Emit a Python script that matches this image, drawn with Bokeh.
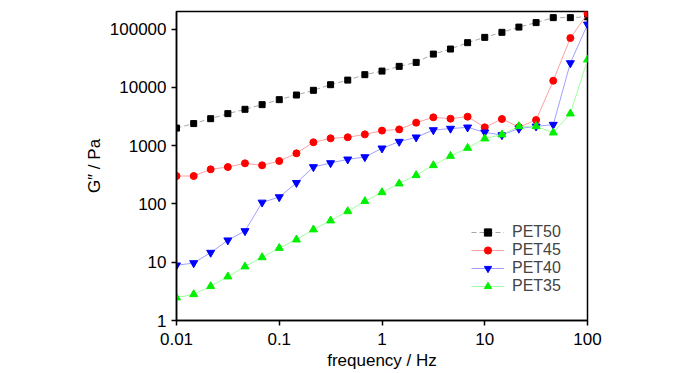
from bokeh.plotting import figure
from bokeh.models import FixedTicker, Legend, LegendItem
from bokeh.embed import file_html
from bokeh.resources import INLINE

freq = [0.01, 0.0147, 0.0215, 0.0316, 0.0464, 0.0681, 0.1, 0.147, 0.215, 0.316,
        0.464, 0.681, 1.0, 1.47, 2.15, 3.16, 4.64, 6.81, 10.0, 14.7, 21.5, 31.6,
        46.4, 68.1, 100.0]

pet50 = [2000, 2390, 2900, 3540, 4200, 5050, 6150, 7380, 8890, 11100, 13300,
         16500, 19000, 22900, 26800, 37200, 45400, 58400, 72000, 87800, 108000,
         129000, 157000, 157000, 162000]
pet45 = [301, 301, 392, 429, 497, 459, 544, 738, 1140, 1335, 1390, 1560, 1810,
         1900, 2480, 3060, 2900, 3140, 2060, 2860, 2080, 2750, 13000, 70100, 184000]
pet40 = [8.85, 9.69, 14.6, 23.8, 34.3, 106, 131, 230, 430, 503, 582, 637, 899,
         1170, 1390, 1850, 1960, 2060, 1690, 1520, 1960, 2140, 2290, 26100, 120000]
pet35 = [2.47, 2.81, 3.86, 5.66, 8.41, 12.1, 17.5, 24.4, 36.3, 51.7, 74.7, 111,
         158, 223, 310, 459, 663, 910, 1320, 1545, 2140, 2140, 1670, 3540, 29900]

series_names = ["PET50", "PET45", "PET40", "PET35"]

x_ticks = [0.01, 0.1, 1, 10, 100]
x_tick_labels = ["0.01", "0.1", "1", "10", "100"]
y_ticks = [1, 10, 100, 1000, 10000, 100000]
y_tick_labels = ["1", "10", "100", "1000", "10000", "100000"]

x_title = "frequency / Hz"
y_title = "G\u2033 / Pa"

FONT = "Liberation Sans"

p = figure(width=700, height=373, x_axis_type="log", y_axis_type="log",
           x_range=(0.01, 100), y_range=(1, 2.0e5),
           output_backend="svg", toolbar_location=None,
           min_border_left=176, min_border_right=113,
           min_border_top=11, min_border_bottom=53)

p.grid.visible = False
p.outline_line_color = "black"
p.outline_line_width = 1.5
p.background_fill_color = "white"
p.border_fill_color = "white"

for ax, ticks, labels, title in ((p.xaxis[0], x_ticks, x_tick_labels, x_title),
                                 (p.yaxis[0], y_ticks, y_tick_labels, y_title)):
    ax.ticker = FixedTicker(ticks=ticks, minor_ticks=[])
    ax.major_label_overrides = {t: l for t, l in zip(ticks, labels)}
    ax.major_label_text_font = FONT
    ax.major_label_text_font_size = "17px"
    ax.major_label_text_color = "black"
    ax.axis_line_color = "black"
    ax.axis_line_width = 1.5
    ax.major_tick_line_color = "black"
    ax.major_tick_line_width = 1.5
    ax.major_tick_out = 5
    ax.major_tick_in = 0
    ax.minor_tick_line_color = None
    ax.axis_label = title
    ax.axis_label_text_font = FONT
    ax.axis_label_text_font_size = "17px"
    ax.axis_label_text_font_style = "normal"
    ax.axis_label_text_color = "black"

p.xaxis[0].major_label_standoff = 7
p.xaxis[0].axis_label_standoff = 3
p.yaxis[0].major_label_standoff = 5
p.yaxis[0].axis_label_standoff = 3

styles = [
    dict(line="#a8a8a8", dash="5 3", mk="square", fill="black", size=6),
    dict(line="#ffa0a0", dash="solid", mk="circle", fill="#ff0000", size=7),
    dict(line="#a0a0ff", dash="solid", mk="inverted_triangle", fill="#0000ff", size=8),
    dict(line="#a0ffa0", dash="solid", mk="triangle", fill="#00f000", size=8),
]

items = []
for name, ys, st in zip(series_names, [pet50, pet45, pet40, pet35], styles):
    r1 = p.line(freq, ys, line_color=st["line"], line_width=1, line_dash=st["dash"])
    r2 = p.scatter(freq, ys, marker=st["mk"], size=st["size"],
                   fill_color=st["fill"], line_color=st["fill"])
    items.append(LegendItem(label=name, renderers=[r1, r2]))

legend = Legend(items=items, location=(295, 25))
legend.label_text_font = FONT
legend.label_text_font_size = "16px"
legend.glyph_width = 33
legend.glyph_height = 18
legend.label_height = 18
legend.spacing = 0
legend.padding = 0
legend.margin = 0
legend.label_standoff = 8
legend.border_line_color = None
legend.background_fill_alpha = 0
p.add_layout(legend, "center")

open("out.html", "w").write(file_html(p, INLINE))
